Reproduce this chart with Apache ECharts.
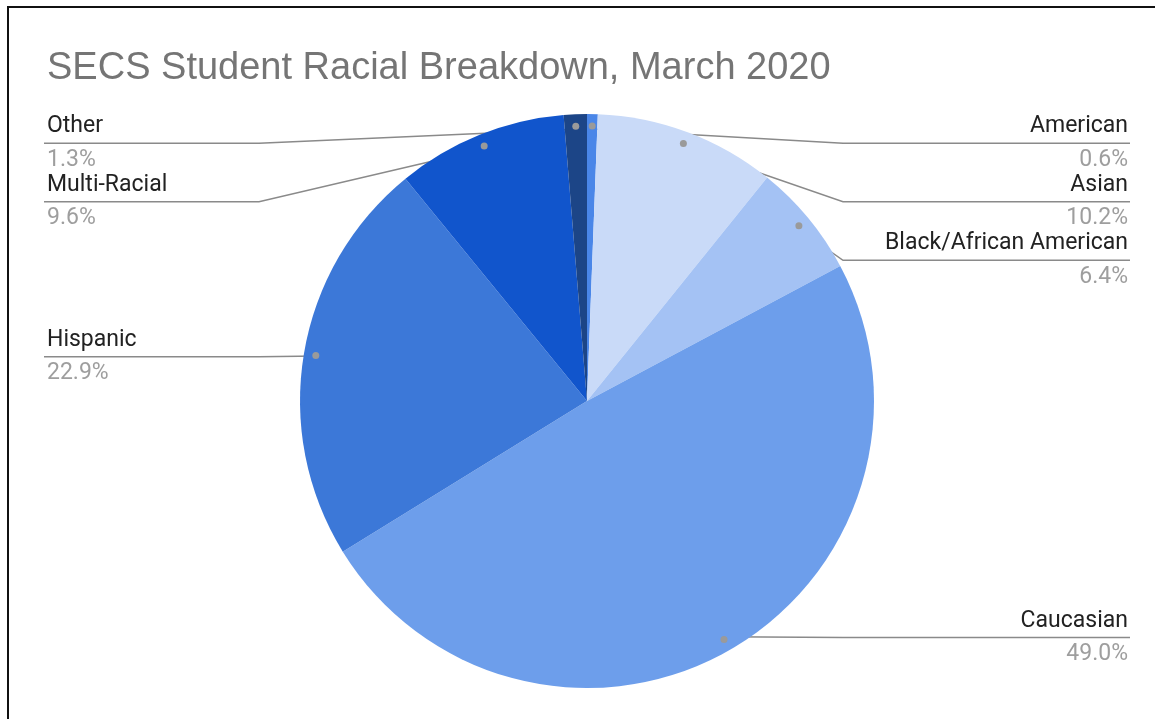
<!DOCTYPE html>
<html>
<head>
<meta charset="utf-8">
<title>SECS Student Racial Breakdown</title>
<script src="https://cdn.jsdelivr.net/npm/echarts@6/dist/echarts.min.js"></script>
<style>
  html, body { margin: 0; padding: 0; background: #fff; }
  #main { position: absolute; left: 0; top: 0; width: 1155px; height: 719px; }
  #frame {
    position: absolute; left: 7px; top: 6px; width: 1200px; height: 800px;
    border-left: 2px solid #111; border-top: 2px solid #111; pointer-events: none;
  }
</style>
</head>
<body>
<div id="main"></div>
<div id="frame"></div>
<script>
// data (percent of students)
var groups = ['American', 'Asian', 'Black/African American', 'Caucasian', 'Hispanic', 'Multi-Racial', 'Other'];
var shares = [0.6, 10.2, 6.4, 49.0, 22.9, 9.6, 1.3];
var sliceColors = ['#4a86e8', '#c9daf8', '#a4c2f4', '#6d9eeb', '#3c78d8', '#1155cc', '#1c4587'];

var chart = echarts.init(document.getElementById('main'));

var pieData = groups.map(function (g, i) {
    return { name: g, value: shares[i], itemStyle: { color: sliceColors[i] } };
});
var ghostData = groups.map(function (g, i) {
    return { name: g, value: shares[i] };
});

// shared box so every ring lines up
var box = { left: 20, right: 0, top: 114, bottom: 0, center: [567, 287], startAngle: 90, clockwise: true };

function ring(extra) {
    return Object.assign({ type: 'pie' }, box, extra);
}

chart.setOption({
    animation: false,
    title: {
        text: 'SECS Student Racial Breakdown, March 2020',
        left: 47,
        top: 50,
        padding: 0,
        textStyle: { fontFamily: 'Liberation Sans', fontSize: 38, fontWeight: 'normal', color: '#757575' }
    },
    series: [
        ring({
            name: 'slices',
            radius: 287,
            data: pieData,
            label: { show: false },
            labelLine: { show: false },
            emphasis: { disabled: true }
        }),
        // small grey dots where the leader lines start
        ring({
            name: 'dots',
            radius: [270, 274],
            silent: true,
            data: ghostData,
            itemStyle: { color: 'rgba(0,0,0,0)' },
            label: {
                show: true,
                position: 'inside',
                formatter: '{dot|}',
                rich: { dot: { width: 7, height: 7, borderRadius: 3.5, backgroundColor: '#9a9a9a' } }
            },
            labelLine: { show: false },
            emphasis: { disabled: true }
        }),
        // labels + leader lines
        ring({
            name: 'labels',
            radius: 272,
            silent: true,
            data: ghostData,
            itemStyle: { color: 'rgba(0,0,0,0)' },
            label: {
                show: true,
                position: 'outside',
                alignTo: 'edge',
                edgeDistance: 27,
                formatter: function (p) {
                    return '{n|' + p.name + '}\n{p|' + p.value.toFixed(1) + '%}';
                },
                rich: {
                    n: { fontFamily: 'Roboto', fontSize: 23, lineHeight: 35, color: '#222222' },
                    p: { fontFamily: 'Roboto', fontSize: 23, lineHeight: 32, color: '#9e9e9e' }
                }
            },
            labelLine: { show: true, length: 0, length2: 4, lineStyle: { color: '#8a8a8a', width: 1.5 } },
            labelLayout: function (params) {
                var pts = params.labelLinePoints;
                if (!pts) return {};
                var rect = params.labelRect;
                var isLeft = rect.x + rect.width / 2 < chart.getWidth() / 2;
                var endX = isLeft ? rect.x - 3 : rect.x + rect.width + 2;
                var lineY = rect.y + rect.height / 2;
                var bendX = isLeft ? Math.min(endX + 215, pts[0][0]) : Math.max(endX - 287, pts[0][0]);
                pts[1] = [bendX, lineY];
                pts[2] = [endX, lineY];
                return { labelLinePoints: pts };
            },
            emphasis: { disabled: true }
        })
    ]
});
</script>
</body>
</html>
